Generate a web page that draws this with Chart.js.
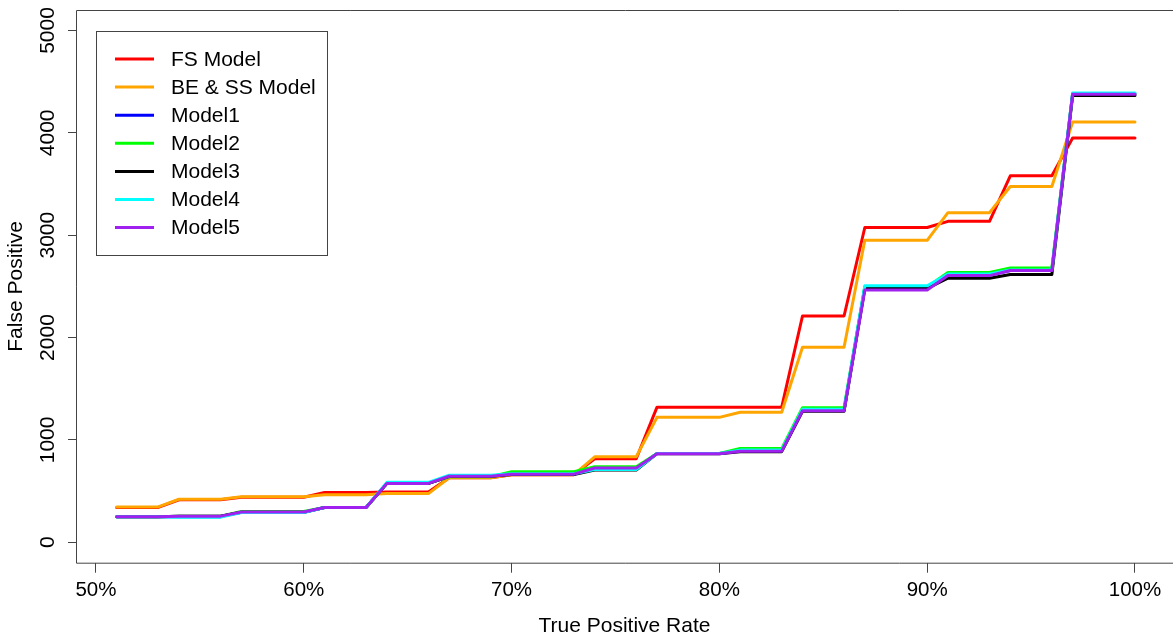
<!DOCTYPE html>
<html>
<head>
<meta charset="utf-8">
<script src="https://cdn.jsdelivr.net/npm/chart.js@4.4.1/dist/chart.umd.min.js"></script>
<style>
  html, body { margin: 0; padding: 0; background: #fff; overflow: hidden; }
  #wrap { width: 1173px; height: 640px; position: relative; }
</style>
</head>
<body>
<div id="wrap"><canvas id="rocChart"></canvas></div>
<script>
// True positive rate (%) along the x axis
const tpr = [51, 52, 53, 54, 55, 56, 57, 58, 59, 60,
             61, 62, 63, 64, 65, 66, 67, 68, 69, 70,
             71, 72, 73, 74, 75, 76, 77, 78, 79, 80,
             81, 82, 83, 84, 85, 86, 87, 88, 89, 90,
             91, 92, 93, 94, 95, 96, 97, 98, 99, 100];

// False positives per model
const fsModel = [340, 340, 340, 415, 415, 415, 440, 440, 440, 440,
                 485, 485, 485, 490, 490, 490, 630, 630, 630, 660,
                 660, 660, 660, 815, 815, 815, 1320, 1320, 1320, 1320,
                 1320, 1320, 1320, 2210, 2210, 2210, 3075, 3075, 3075, 3075,
                 3135, 3135, 3135, 3580, 3580, 3580, 3950, 3950, 3950, 3950];
const beSsModel = [345, 345, 345, 420, 420, 420, 445, 445, 445, 445,
                   465, 465, 465, 475, 475, 475, 630, 630, 630, 660,
                   660, 660, 660, 835, 835, 835, 1220, 1220, 1220, 1220,
                   1270, 1270, 1270, 1905, 1905, 1905, 2950, 2950, 2950, 2950,
                   3220, 3220, 3220, 3475, 3475, 3475, 4105, 4105, 4105, 4105];
const model1 = [250, 250, 250, 250, 250, 250, 292, 292, 292, 292,
                340, 340, 340, 575, 575, 575, 645, 645, 645, 668,
                668, 668, 668, 720, 720, 720, 867, 867, 867, 867,
                895, 895, 895, 1290, 1290, 1290, 2490, 2490, 2490, 2490,
                2610, 2610, 2610, 2655, 2655, 2655, 4382, 4382, 4382, 4382];
const model2 = [250, 250, 250, 255, 255, 255, 300, 300, 300, 300,
                340, 340, 340, 575, 575, 575, 640, 640, 640, 688,
                688, 688, 688, 737, 737, 737, 867, 867, 867, 867,
                915, 915, 915, 1315, 1315, 1315, 2495, 2495, 2495, 2495,
                2635, 2635, 2635, 2680, 2680, 2680, 4380, 4380, 4380, 4380];
const model3 = [250, 250, 250, 255, 255, 255, 292, 292, 292, 292,
                340, 340, 340, 575, 575, 575, 645, 645, 645, 662,
                662, 662, 662, 705, 705, 705, 865, 865, 865, 865,
                885, 885, 885, 1280, 1280, 1280, 2480, 2480, 2480, 2480,
                2580, 2580, 2580, 2615, 2615, 2615, 4365, 4365, 4365, 4365];
const model4 = [250, 250, 250, 245, 245, 245, 290, 290, 290, 290,
                340, 340, 340, 585, 585, 585, 655, 655, 655, 670,
                670, 670, 670, 710, 710, 710, 867, 867, 867, 867,
                900, 900, 900, 1300, 1300, 1300, 2505, 2505, 2505, 2505,
                2620, 2620, 2620, 2660, 2660, 2660, 4390, 4390, 4390, 4390];
const model5 = [250, 250, 250, 255, 255, 255, 295, 295, 295, 295,
                340, 340, 340, 575, 575, 575, 645, 645, 645, 665,
                665, 665, 665, 725, 725, 725, 865, 865, 865, 865,
                890, 890, 890, 1285, 1285, 1285, 2465, 2465, 2465, 2465,
                2605, 2605, 2605, 2655, 2655, 2655, 4378, 4378, 4378, 4378];

const seriesNames = ['FS Model', 'BE & SS Model', 'Model1', 'Model2', 'Model3', 'Model4', 'Model5'];
const seriesValues = [fsModel, beSsModel, model1, model2, model3, model4, model5];
const seriesColors = ['#FF0000', '#FFA500', '#0000FF', '#00FF00', '#000000', '#00FFFF', '#A020F0'];

const xTicks = [50, 60, 70, 80, 90, 100];
const yTicks = [0, 1000, 2000, 3000, 4000, 5000];

const FONT = "'Liberation Sans', Arial, sans-serif";
const AXIS_COLOR = '#444';

// frame, rotated y tick labels and the boxed legend (R style)
const rStylePlugin = {
    id: 'rStyle',
    afterDraw(chart) {
        const ctx = chart.ctx;
        const area = chart.chartArea;
        const yScale = chart.scales.y;

        ctx.save();
        // keep the right side open: in the original the box edge is cut off
        ctx.fillStyle = '#fff';
        ctx.fillRect(area.right - 3, area.top + 1, chart.width - area.right + 10, area.bottom - area.top - 1);

        ctx.strokeStyle = AXIS_COLOR;
        ctx.lineWidth = 1;
        ctx.beginPath();
        ctx.moveTo(chart.width + 2, area.top + 0.5);
        ctx.lineTo(area.left + 0.5, area.top + 0.5);
        ctx.lineTo(area.left + 0.5, area.bottom + 0.5);
        ctx.lineTo(chart.width + 2, area.bottom + 0.5);
        ctx.stroke();

        ctx.fillStyle = '#000';
        ctx.font = '21px ' + FONT;
        ctx.textAlign = 'center';
        ctx.textBaseline = 'middle';
        yTicks.forEach(v => {
            ctx.save();
            ctx.translate(48, yScale.getPixelForValue(v));
            ctx.rotate(-Math.PI / 2);
            ctx.fillText(String(v), 0, 0);
            ctx.restore();
        });

        // legend box
        const lx = area.left + 20;
        const ly = area.top + 21;
        ctx.fillStyle = '#fff';
        ctx.fillRect(lx, ly, 231, 224);
        ctx.strokeStyle = AXIS_COLOR;
        ctx.strokeRect(lx + 0.5, ly + 0.5, 231, 224);

        ctx.textAlign = 'left';
        ctx.lineWidth = 3;
        chart.data.datasets.forEach((ds, i) => {
            const rowY = ly + 28 + i * 28.1;
            ctx.strokeStyle = ds.borderColor;
            ctx.beginPath();
            ctx.moveTo(lx + 19, rowY);
            ctx.lineTo(lx + 58, rowY);
            ctx.stroke();
            ctx.fillStyle = '#000';
            ctx.fillText(ds.label, lx + 75, rowY + 1);
        });
        ctx.restore();
    }
};

const datasets = seriesNames.map((name, i) => ({
    label: name,
    data: seriesValues[i],
    borderColor: seriesColors[i],
    backgroundColor: seriesColors[i],
    borderWidth: 3,
    pointRadius: 0,
    tension: 0,
    fill: false,
    borderJoinStyle: 'round',
    borderCapStyle: 'round',
    // later series are painted on top, like the R plot
    order: seriesNames.length - i
}));

new Chart(document.getElementById('rocChart'), {
    type: 'line',
    data: {
        labels: tpr,
        datasets: datasets
    },
    options: {
        responsive: true,
        maintainAspectRatio: false,
        animation: false,
        layout: { padding: { top: 10, right: 0, left: 0, bottom: 0 } },
        plugins: {
            legend: { display: false },
            tooltip: { enabled: false }
        },
        scales: {
            x: {
                type: 'linear',
                min: 49.04,
                max: 101.83,
                afterBuildTicks: scale => { scale.ticks = xTicks.map(v => ({ value: v })); },
                afterFit: scale => { scale.height = 77.3; },
                ticks: {
                    callback: v => v + '%',
                    color: '#000',
                    font: { family: FONT, size: 20.5 },
                    padding: 5,
                    maxRotation: 0
                },
                grid: { drawOnChartArea: false, drawTicks: true, tickLength: 10, color: AXIS_COLOR },
                border: { display: false },
                title: {
                    display: true,
                    text: 'True Positive Rate',
                    color: '#000',
                    font: { family: FONT, size: 21 },
                    padding: { top: 0, bottom: 1 }
                }
            },
            y: {
                type: 'linear',
                min: -200,
                max: 5200,
                afterBuildTicks: scale => { scale.ticks = yTicks.map(v => ({ value: v })); },
                afterFit: scale => { scale.width = 76; },
                ticks: { display: false },
                grid: { drawOnChartArea: false, drawTicks: true, tickLength: 8, color: AXIS_COLOR },
                border: { display: false },
                title: {
                    display: true,
                    text: 'False Positive',
                    color: '#000',
                    font: { family: FONT, size: 21 },
                    padding: { top: 4, bottom: 0 }
                }
            }
        }
    },
    plugins: [rStylePlugin]
});
</script>
</body>
</html>
